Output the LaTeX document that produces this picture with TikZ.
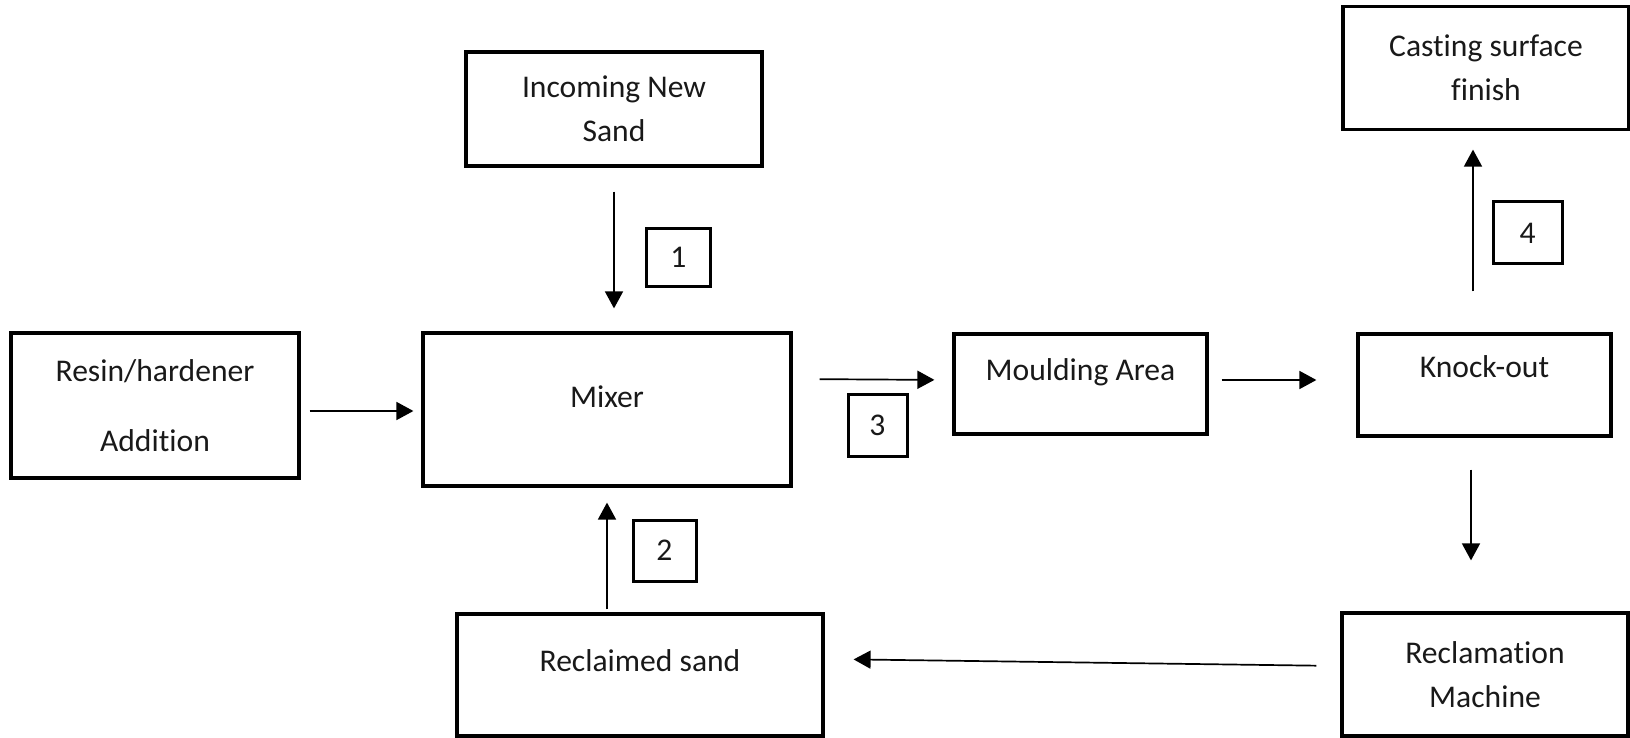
\documentclass[tikz,border=0pt]{standalone}
\usepackage{fontspec}
\setmainfont[Ligatures=NoCommon]{Carlito}
\usetikzlibrary{arrows.meta,calc}

\begin{document}
\begin{tikzpicture}[x=0.5pt,y=-0.5pt]
\useasboundingbox (0,0) rectangle (1630,738);

\begin{scope}[every node/.style={rectangle,draw,line width=1.6pt,align=center,
      text=black!90,font=\fontsize{15.8}{22}\selectfont}]
    \node[minimum width=148pt,minimum height=57pt] (New) at (614,109) {Incoming New\\Sand};
    \node[minimum width=143pt,minimum height=61.5pt] (Cast) at (1486,68) {Casting surface\\finish};
    \node[minimum width=144pt,minimum height=72.5pt] (Resin) at (155,405.5) {Resin/hardener\\[13pt]Addition};
    \node[minimum width=184pt,minimum height=76.5pt,text height=11pt,text depth=13pt] (Mixer) at (607,409.5) {Mixer};
    \node[minimum width=126.5pt,minimum height=50pt,text height=11pt,text depth=14.5pt] (Mould) at (1080.5,384) {Moulding Area};
    \node[minimum width=126.5pt,minimum height=51pt,text height=11pt,text depth=18.5pt] (Knock) at (1484.5,385) {Knock-out};
    \node[minimum width=183pt,minimum height=61pt,text height=11pt,text depth=14.5pt] (Sand) at (640,675) {Reclaimed sand};
    \node[minimum width=143pt,minimum height=61.5pt] (Reclaim) at (1485,674.5) {Reclamation\\Machine};
\end{scope}

\begin{scope}[every node/.style={rectangle,draw,line width=1.5pt,inner sep=0pt,
      text=black!90,font=\fontsize{15.8}{22}\selectfont}]
    \node[minimum width=32pt,minimum height=29pt] (One) at (678.5,257.5) {1};
    \node[minimum width=31.5pt,minimum height=30.5pt] (Two) at (664.5,550.5) {2};
    \node[minimum width=29.5pt,minimum height=31pt] (Three) at (877.5,425) {3};
    \node[minimum width=34.5pt,minimum height=31pt] (Four) at (1527.5,233) {4};
\end{scope}

\begin{scope}[>={Triangle[length=8.5pt,width=9pt]},
              every path/.style={draw,line width=0.85pt}]
    \path [->,shorten <=12pt,shorten >=11.5pt] (New.south) -- (New.south |- Mixer.north);
    \path [->,shorten <=4.5pt,shorten >=4pt] ([yshift=-2.75pt]Resin.east) -- ([yshift=-2.75pt]Resin.east -| Mixer.west);
    \path [->,shorten <=13.5pt,shorten >=9pt] ([yshift=2.5pt]Mixer.east |- Mould.west) -- ([yshift=2pt]Mould.west);
    \path [->,shorten <=6.5pt,shorten >=20pt] ([yshift=2pt]Mould.east) -- ([yshift=2pt]Mould.east -| Knock.west);
    \path [->,shorten <=16pt,shorten >=25.5pt] ([xshift=-6.75pt]Knock.south) -- ([xshift=-6.75pt]Knock.south |- Reclaim.north);
    \path [->,shorten <=20.5pt,shorten >=9.25pt] ([xshift=-5.75pt]Knock.north) -- ([xshift=-5.75pt]Knock.north |- Cast.south);
    \path [->,shorten <=12pt,shorten >=14.5pt] ([yshift=4.25pt]Reclaim.west) -- ([yshift=8pt]Sand.east);
    \path [->,shorten <=1.5pt,shorten >=7.5pt] (Mixer.south |- Sand.north) -- (Mixer.south);
\end{scope}
\end{tikzpicture}
\end{document}
